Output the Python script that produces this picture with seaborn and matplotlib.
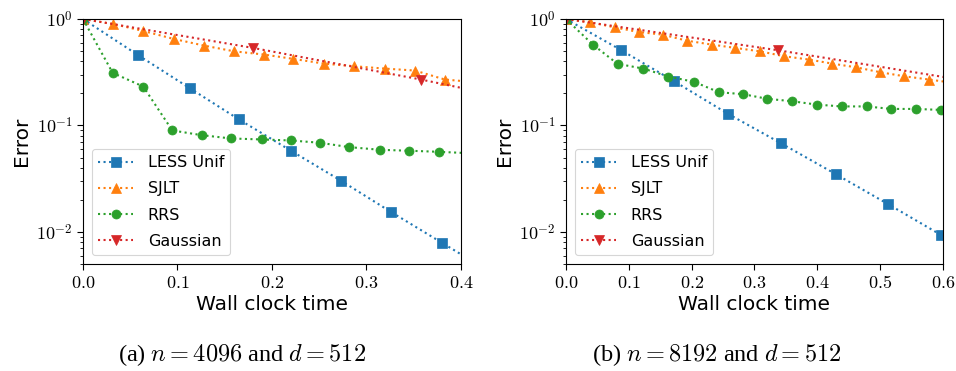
import numpy as np
import pandas as pd
import seaborn as sns
import matplotlib
matplotlib.use("Agg")
import matplotlib.pyplot as plt
from matplotlib.ticker import FuncFormatter, LogLocator

sns.set_theme(style="ticks", context="paper")
plt.rcParams["font.family"] = ["DejaVu Sans"]
plt.rcParams["mathtext.fontset"] = "cm"
for key in ["text.color", "axes.labelcolor", "xtick.color", "ytick.color", "axes.edgecolor"]:
    plt.rcParams[key] = "black"

# --------------------------------------------------
# Data (last point of some series lies past xlim)
# --------------------------------------------------
# (a) n = 4096, d = 512
a_less_t = [0.0, 0.0586, 0.113, 0.165, 0.220, 0.273, 0.326, 0.380, 0.433]
a_less_e = [1.0, 0.456, 0.224, 0.114, 0.058, 0.0303, 0.0154, 0.0079, 0.0041]
a_sjlt_t = [0.0, 0.032, 0.0638, 0.0963, 0.1284, 0.160, 0.192, 0.2226, 0.255,
            0.287, 0.3196, 0.3513, 0.383, 0.415]
a_sjlt_e = [1.0, 0.898, 0.772, 0.649, 0.562, 0.497, 0.463, 0.422, 0.381,
            0.360, 0.342, 0.328, 0.270, 0.255]
a_rrs_t = [0.0, 0.0314, 0.0638, 0.0945, 0.1256, 0.1566, 0.189, 0.220, 0.2508,
           0.2818, 0.3143, 0.3453, 0.3763, 0.407]
a_rrs_e = [1.0, 0.312, 0.232, 0.0898, 0.0811, 0.0755, 0.0739, 0.0723, 0.0688,
           0.0626, 0.0591, 0.0579, 0.0566, 0.0550]
a_gauss_t = [0.0, 0.180, 0.3577, 0.536]
a_gauss_e = [1.0, 0.535, 0.270, 0.127]

# (b) n = 8192, d = 512
b_less_t = [0.0, 0.0874, 0.1727, 0.2585, 0.3427, 0.429, 0.513, 0.5964]
b_less_e = [1.0, 0.512, 0.259, 0.128, 0.0678, 0.035, 0.0182, 0.0094]
b_sjlt_t = [0.0, 0.0387, 0.0773, 0.1155, 0.154, 0.192, 0.232, 0.2696, 0.3088,
            0.347, 0.3867, 0.4237, 0.4613, 0.5005, 0.538, 0.578, 0.617]
b_sjlt_e = [1.0, 0.931, 0.835, 0.755, 0.713, 0.626, 0.575, 0.535, 0.497,
            0.447, 0.416, 0.381, 0.352, 0.316, 0.290, 0.270, 0.251]
b_rrs_t = [0.0, 0.0429, 0.0821, 0.1234, 0.163, 0.2039, 0.2436, 0.2813, 0.3204,
           0.3596, 0.3994, 0.4386, 0.4783, 0.5175, 0.5567, 0.597]
b_rrs_e = [1.0, 0.574, 0.379, 0.342, 0.288, 0.257, 0.205, 0.197, 0.178,
           0.169, 0.157, 0.151, 0.151, 0.143, 0.143, 0.140]
b_gauss_t = [0.0, 0.338, 0.676]
b_gauss_e = [1.0, 0.508, 0.242]

methods = ["LESS Unif", "SJLT", "RRS", "Gaussian"]
colors = ["#1f77b4", "#ff7f0e", "#2ca02c", "#d62728"]
markers = ["s", "^", "o", "v"]
msizes = [7, 7, 6.5, 7]

panels = [
    ([(a_less_t, a_less_e), (a_sjlt_t, a_sjlt_e), (a_rrs_t, a_rrs_e), (a_gauss_t, a_gauss_e)],
     0.4, [0.0, 0.1, 0.2, 0.3, 0.4], r"(a) $n = 4096$ and $d = 512$"),
    ([(b_less_t, b_less_e), (b_sjlt_t, b_sjlt_e), (b_rrs_t, b_rrs_e), (b_gauss_t, b_gauss_e)],
     0.6, [0.0, 0.1, 0.2, 0.3, 0.4, 0.5, 0.6], r"(b) $n = 8192$ and $d = 512$"),
]

fig = plt.figure(figsize=(9.56, 3.71), dpi=100)
axes = [fig.add_axes([0.0868, 0.2884, 0.3954, 0.6604]),
        fig.add_axes([0.592, 0.2884, 0.3944, 0.6604])]
caption_x = [0.253, 0.75]

for ax, (series, xmax, xticks, caption), cx in zip(axes, panels, caption_x):
    for (t, e), name, c, m, ms in zip(series, methods, colors, markers, msizes):
        df = pd.DataFrame({"time": t, "error": e})
        sns.lineplot(data=df, x="time", y="error", ax=ax, color=c, marker=m,
                     markersize=ms, markeredgecolor=c, markeredgewidth=0.5,
                     linestyle=":", linewidth=1.5, label=name)
    ax.set_yscale("log")
    ax.set_xlim(0, xmax)
    ax.set_ylim(0.005, 1.0)
    ax.set_xticks(xticks)
    ax.xaxis.set_major_formatter(FuncFormatter(lambda v, p: f"${v:.1f}$"))
    ax.yaxis.set_major_locator(LogLocator(base=10, numticks=10))
    ax.yaxis.set_minor_locator(LogLocator(base=10, subs=np.arange(2, 10), numticks=10))
    ax.yaxis.set_major_formatter(FuncFormatter(lambda v, p: f"$10^{{{int(round(np.log10(v)))}}}$"))
    ax.tick_params(axis="both", which="major", labelsize=13, length=4, width=0.8, direction="out")
    ax.tick_params(axis="y", which="minor", length=2.5, width=0.6)
    for s in ax.spines.values():
        s.set_linewidth(0.8)
        s.set_color("black")
    ax.set_xlabel("Wall clock time", fontsize=14.5, labelpad=2)
    ax.set_ylabel("Error", fontsize=14.5, labelpad=4)
    ax.legend(loc="lower left", fontsize=11.5, frameon=True, fancybox=True,
              framealpha=0.8, edgecolor="#cccccc", handlelength=2.2,
              handletextpad=0.9, labelspacing=0.7, borderaxespad=0.55)
    fig.text(cx, 0.043, caption, ha="center", va="center", fontsize=17.5,
             family=["Liberation Serif", "DejaVu Serif"])

fig.savefig("out.png", dpi=100, facecolor="white")
